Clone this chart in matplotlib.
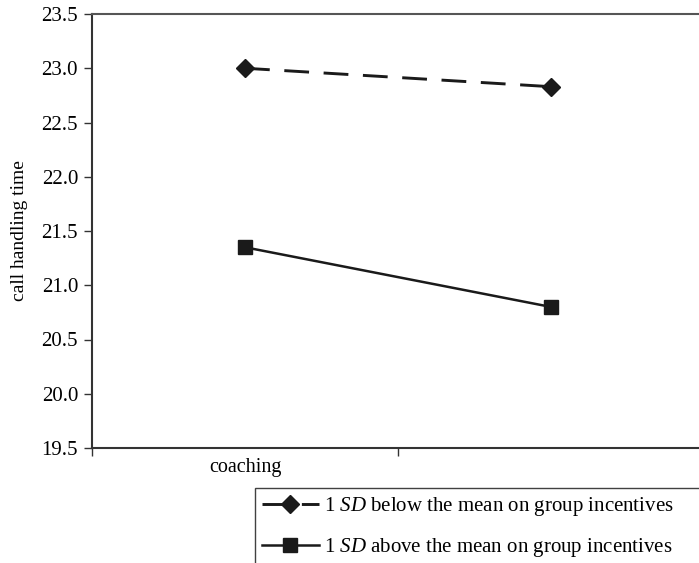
import numpy as np
import matplotlib.pyplot as plt

plt.rcParams['font.family'] = ['Liberation Serif', 'DejaVu Serif']
plt.rcParams['mathtext.fontset'] = 'custom'
plt.rcParams['mathtext.rm'] = 'Liberation Serif'
plt.rcParams['mathtext.it'] = 'Liberation Serif:italic'

# data
categories = ['coaching', '']
below_mean = [23.00, 22.83]   # 1 SD below the mean on group incentives
above_mean = [21.35, 20.80]   # 1 SD above the mean on group incentives
y_ticks = [19.5, 20.0, 20.5, 21.0, 21.5, 22.0, 22.5, 23.0, 23.5]

fig = plt.figure(figsize=(6.99, 5.63), dpi=100)
# axes run a little past the right edge, as in the reference crop
ax = fig.add_axes([92/699, 1 - 448/563, 612/699, 434/563])

x = np.arange(len(categories)) + 0.5
ax.plot(x, below_mean, color='#1a1a1a', lw=2.1, dashes=(8.5, 5),
        marker='D', ms=9, label=r'1 $\it{SD}$ below the mean on group incentives')
ax.plot(x, above_mean, color='#1a1a1a', lw=1.8,
        marker='s', ms=9.5, label=r'1 $\it{SD}$ above the mean on group incentives')

ax.set_xlim(0, len(categories))
ax.set_ylim(19.5, 23.5)
ax.set_yticks(y_ticks)
ax.set_yticklabels(['%.1f' % v for v in y_ticks], fontsize=15)
ax.set_xticks(np.arange(len(categories) + 1))
ax.set_xticklabels([])
ax.set_xticks(x, minor=True)
ax.set_xticklabels(categories, minor=True, fontsize=14.5)
ax.tick_params(axis='x', which='minor', length=0, pad=7)
ax.tick_params(axis='both', which='major', length=6, width=1, direction='out', color='#333333')
ax.tick_params(axis='y', pad=4)
ax.set_ylabel('call handling time', fontsize=14, labelpad=10)

for s in ['left', 'bottom']:
    ax.spines[s].set_linewidth(1.5)
    ax.spines[s].set_color('#333333')
ax.spines['top'].set_color('#555555')
ax.spines['top'].set_linewidth(1.5)
ax.spines['right'].set_visible(False)

leg = fig.legend(loc='upper left', bbox_to_anchor=(255/699, 1 - 488/563, 480/699, 0.0),
                 mode='expand', frameon=True, fancybox=False, fontsize=15,
                 handlelength=2.7, handletextpad=0.25, borderaxespad=0,
                 labelspacing=0.85, borderpad=0.35)
leg.get_frame().set_edgecolor('#111111')
leg.get_frame().set_linewidth(1.0)

fig.savefig('out.png', dpi=100)
